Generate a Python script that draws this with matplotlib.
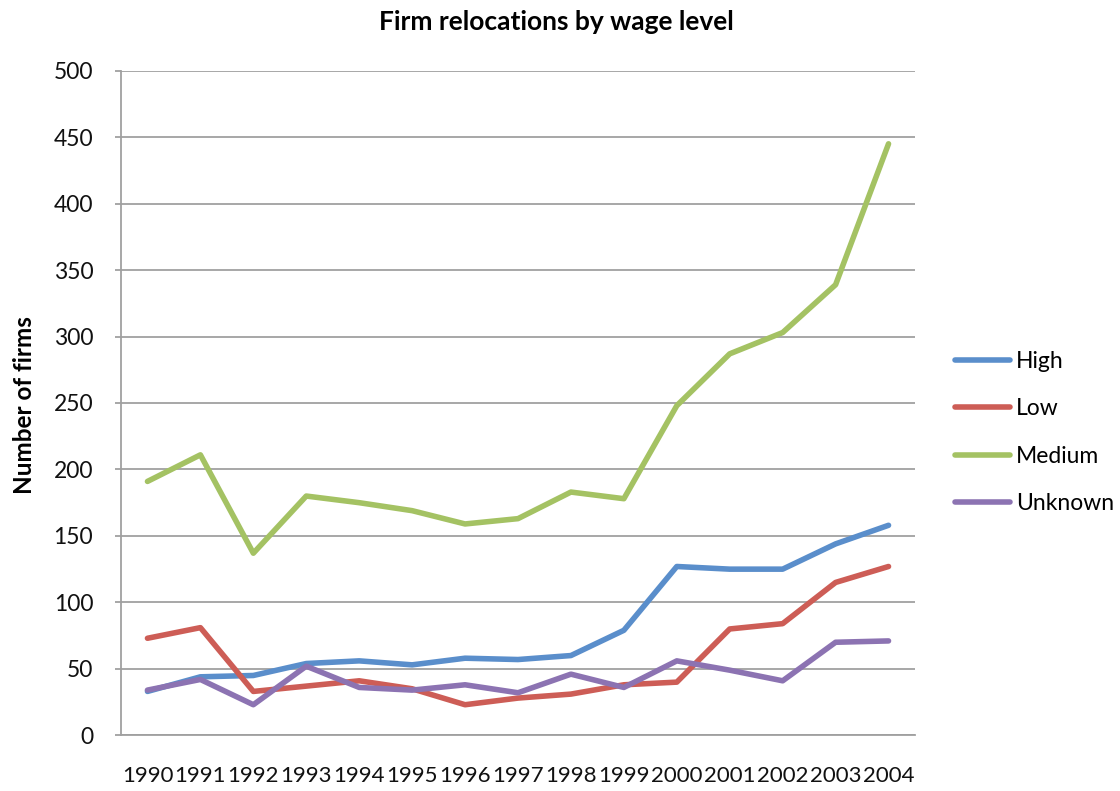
import matplotlib
matplotlib.use("Agg")
import matplotlib.pyplot as plt

years = ["1990", "1991", "1992", "1993", "1994", "1995", "1996", "1997",
         "1998", "1999", "2000", "2001", "2002", "2003", "2004"]
high = [33, 44, 45, 54, 56, 53, 58, 57, 60, 79, 127, 125, 125, 144, 158]
low = [73, 81, 33, 37, 41, 35, 23, 28, 31, 38, 40, 80, 84, 115, 127]
medium = [191, 211, 137, 180, 175, 169, 159, 163, 183, 178, 248, 287, 303, 339, 445]
unknown = [34, 42, 23, 52, 36, 34, 38, 32, 46, 36, 56, 49, 41, 70, 71]
series_names = ["High", "Low", "Medium", "Unknown"]
colors = ["#5A8ECB", "#CD5D56", "#A4C263", "#8C73B2"]
y_ticks = [0, 50, 100, 150, 200, 250, 300, 350, 400, 450, 500]

plt.rcParams["font.family"] = ["Lato", "DejaVu Sans"]

fig = plt.figure(figsize=(11.2, 7.91), dpi=100)
ax = fig.add_axes([121 / 1120, 1 - 735.3 / 791, (915 - 121) / 1120, (735.3 - 70.7) / 791])

x = range(len(years))
for name, values, c in zip(series_names, [high, low, medium, unknown], colors):
    ax.plot(x, values, color=c, lw=4.0, solid_capstyle="round",
            solid_joinstyle="round", label=name)

ax.set_xlim(-0.5, len(years) - 0.5)
ax.set_ylim(0, 500)
ax.set_yticks(y_ticks)
ax.set_xticks(list(x))
ax.set_xticklabels(years)

grid_c = "#A0A0A0"
ax.yaxis.grid(True, color=grid_c, lw=1.3)
ax.set_axisbelow(True)
for side in ["top", "right"]:
    ax.spines[side].set_visible(False)
for side in ["left", "bottom"]:
    ax.spines[side].set_color(grid_c)
    ax.spines[side].set_linewidth(1.3)

ax.tick_params(axis="y", length=4, width=1.3, color=grid_c, pad=16,
               labelsize=16.5, labelcolor="#111111")
ax.tick_params(axis="x", length=0, pad=22, labelsize=16, labelcolor="#111111")

fig.text(0.497, 1 - 22 / 791, "Firm relocations by wage level",
         ha="center", va="center", fontsize=19, fontweight="bold")
fig.text(25 / 1120, 1 - 405 / 791, "Number of firms", rotation=90,
         ha="center", va="center", fontsize=17.5, fontweight="bold")

ax.legend(loc="center left", bbox_to_anchor=(955 / 1120, 1 - 432.5 / 791),
          bbox_transform=fig.transFigure, frameon=False, borderpad=0,
          borderaxespad=0, handlelength=2.4, handletextpad=0.25,
          labelspacing=1.15, fontsize=16.5)

fig.savefig("out.png", dpi=100)
